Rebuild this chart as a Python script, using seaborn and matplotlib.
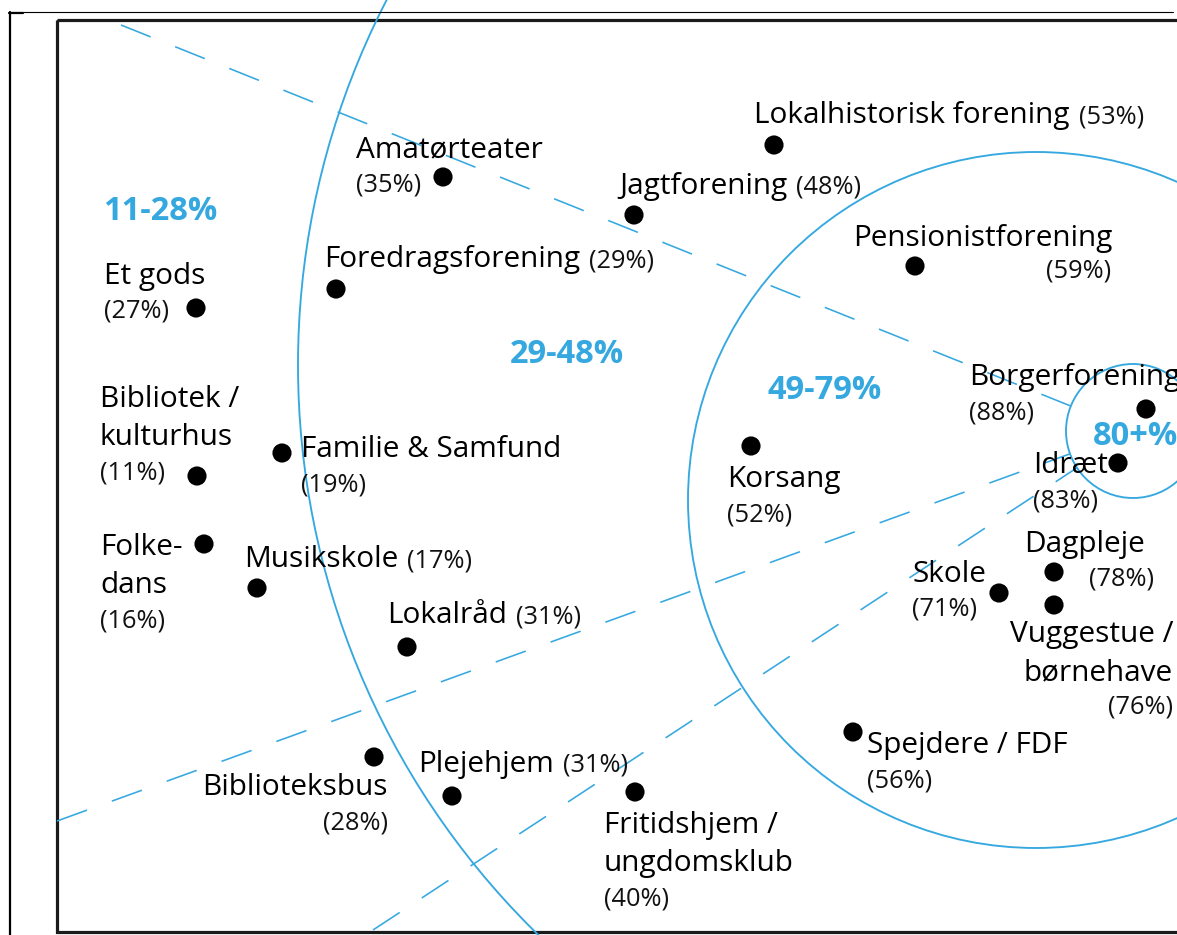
import numpy as np
import pandas as pd
import matplotlib
matplotlib.use("Agg")
import matplotlib.pyplot as plt
import seaborn as sns
from matplotlib.patches import Circle, Rectangle

# activities, share of villages that have them (%), and where they sit in the diagram
activities = [
    "Lokalhistorisk forening", "Amatørteater", "Jagtforening", "Foredragsforening",
    "Pensionistforening", "Et gods", "Bibliotek /\nkulturhus", "Familie & Samfund",
    "Folke-\ndans", "Musikskole", "Lokalråd", "Biblioteksbus", "Plejehjem",
    "Fritidshjem /\nungdomsklub", "Korsang", "Idræt", "Dagpleje", "Skole",
    "Vuggestue /\nbørnehave", "Spejdere / FDF", "Borgerforening",
]
share = [53, 35, 48, 29, 59, 27, 11, 19, 16, 17, 31, 28, 31, 40, 52, 83, 78, 71, 76, 56, 88]
pos_x = [774, 443, 634, 336, 915, 196, 197, 282, 204, 257, 407, 374, 452, 635,
         751, 1118, 1054, 999, 1054, 853, 1146]
pos_y = [145, 177, 215, 289, 266, 308, 476, 453, 544, 588, 647, 757, 796, 792,
         446, 463, 572, 593, 605, 732, 409]

bands = ["11-28%", "29-48%", "49-79%", "80+%"]

BLUE = "#35a8e0"
W, H = 1177, 935

sns.set_theme(style="white")
plt.rcParams["font.family"] = ["Open Sans", "DejaVu Sans"]
plt.rcParams["lines.scale_dashes"] = False

df = pd.DataFrame({"activity": activities, "share": share, "x": pos_x, "y": pos_y})

fig = plt.figure(figsize=(W / 100, H / 100), dpi=100)
ax = fig.add_axes([0, 0, 1, 1])
ax.set_xlim(0, W)
ax.set_ylim(H, 0)
ax.axis("off")

# frames
ax.plot([10, 1173], [12, 12], color="black", lw=0.8)
ax.plot([10, 10], [12, H], color="black", lw=1.6)
ax.plot([9, 23], [13, 13], color="black", lw=1.6)
ax.add_patch(Rectangle((57, 20), 1300, 912, fill=False, ec="#1a1a1a", lw=2.3))

# zone circles
zones = [((1094, 365), 796), ((1036, 500), 348), ((1133, 431), 67)]
for (cx, cy), r in zones:
    ax.add_patch(Circle((cx, cy), r, fill=False, ec=BLUE, lw=1.35))

# dashed rays towards the inner circle
(cx, cy), r = zones[2]
for sx, sy in [(121, 25), (57, 821), (373, 930)]:
    d = np.array([cx - sx, cy - sy], dtype=float)
    d /= np.hypot(*d)
    ex, ey = cx - r * d[0], cy - r * d[1]
    ax.plot([sx, ex], [sy, ey], color=BLUE, lw=1.15, linestyle=(0, (23, 19)))

sns.scatterplot(data=df, x="x", y="y", color="black", s=190, edgecolor="none",
                legend=False, ax=ax, zorder=5)

# label anchors: x, first baseline, alignment, where the percentage goes
label_pos = {
    "Lokalhistorisk forening": (754, 123, "left", "inline"),
    "Amatørteater": (356, 157, "left", "below"),
    "Jagtforening": (619, 194, "left", "inline"),
    "Foredragsforening": (324, 267, "left", "inline"),
    "Pensionistforening": (853, 246, "left", (1111, 277, "right")),
    "Et gods": (104, 284, "left", "below"),
    "Bibliotek /\nkulturhus": (100, 407, "left", "below"),
    "Familie & Samfund": (301, 457, "left", "below"),
    "Folke-\ndans": (100, 555, "left", "below"),
    "Musikskole": (244, 567, "left", "inline"),
    "Lokalråd": (387, 623, "left", "inline"),
    "Biblioteksbus": (388, 795, "right", "below"),
    "Plejehjem": (418, 772, "left", "inline"),
    "Fritidshjem /\nungdomsklub": (604, 833, "left", "below"),
    "Korsang": (727, 487, "left", "below"),
    "Idræt": (1033, 473, "left", "below"),
    "Dagpleje": (1024, 552, "left", (1089, 585, "left")),
    "Skole": (912, 582, "left", "below"),
    "Vuggestue /\nbørnehave": (1173, 642, "right", "below"),
    "Spejdere / FDF": (867, 753, "left", "below"),
    "Borgerforening": (969, 385, "left", "below"),
}

NAME_FS, PCT_FS = 21.4, 18.3
fig.canvas.draw()
renderer = fig.canvas.get_renderer()
inv = ax.transData.inverted()

for name, pct in zip(df["activity"], df["share"]):
    x, y, ha, mode = label_pos[name]
    lines = name.split("\n")
    t = None
    for i, line in enumerate(lines):
        t = ax.text(x, y + 38 * i, line, fontsize=NAME_FS, ha=ha, va="baseline",
                    color="black", zorder=6)
    last_y = y + 38 * (len(lines) - 1)
    ptxt = f"({pct}%)"
    if mode == "inline":
        bb = t.get_window_extent(renderer)
        x1 = inv.transform((bb.x1, bb.y0))[0]
        ax.text(x1 + 9, last_y, ptxt, fontsize=PCT_FS, ha="left", va="baseline",
                color="#111111", zorder=6)
    elif mode == "below":
        ax.text(x, last_y + 34, ptxt, fontsize=PCT_FS, ha=ha, va="baseline",
                color="#111111", zorder=6)
    else:
        px, py, pha = mode
        ax.text(px, py, ptxt, fontsize=PCT_FS, ha=pha, va="baseline",
                color="#111111", zorder=6)

band_pos = [(103, 220), (510, 363), (768, 399), (1093, 445)]
for lab, (bx, by) in zip(bands, band_pos):
    ax.text(bx, by, lab, fontsize=23.5, fontweight="bold", color=BLUE,
            ha="left", va="baseline", zorder=6)

fig.savefig("out.png", dpi=100)
